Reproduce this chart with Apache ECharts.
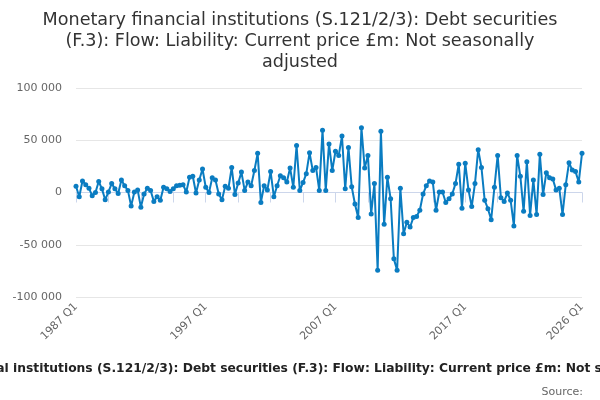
<!DOCTYPE html>
<html>
<head>
<meta charset="utf-8">
<script src="https://cdn.jsdelivr.net/npm/echarts@6/dist/echarts.min.js"></script>
<style>html,body{margin:0;padding:0;background:#fff;}#c{width:600px;height:400px;}</style>
</head>
<body>
<div id="c"></div>
<script>
var titleText = 'Monetary financial institutions (S.121/2/3): Debt securities (F.3): Flow: Liability: Current price £m: Not seasonally adjusted';
var startYear = 1987, endYear = 2026;
var categories = [];
for (var y = startYear; y <= endYear; y++) {
  for (var q = 1; q <= 4; q++) {
    if (y === endYear && q > 1) break;
    categories.push(y + ' Q' + q);
  }
}
var values = [
  6000, -4000, 11000, 7500, 4000, -3000, 0, 10500, 3500, -7000,
  500, 8500, 3500, -1000, 12000, 6500, 2000, -13000, 500, 2500,
  -14000, -1500, 4000, 2000, -8500, -4000, -7500, 5000, 3500, 1000,
  3500, 6500, 7000, 7500, 500, 14500, 15500, -500, 12000, 22500,
  5000, 0, 14000, 12000, -1500, -7000, 6000, 4000, 24000, -2000,
  9000, 19500, 2000, 10000, 6500, 21000, 37500, -9500, 6500, 2500,
  20000, -4000, 6500, 16000, 14000, 10000, 23500, 5000, 45000, 2000,
  9500, 18000, 38000, 21000, 24000, 2000, 59500, 2000, 46500, 21000,
  39500, 35500, 54000, 3500, 43000, 5500, -11000, -24000, 62000, 23500,
  35500, -20500, 8500, -74500, 58500, -30500, 14500, -6000, -63500, -74500,
  4000, -39500, -28500, -33000, -24000, -23000, -17000, -1500, 6500, 11000,
  10000, -17000, 500, 500, -9500, -6000, -1500, 8500, 27000, -15000,
  28000, 2500, -13500, 8500, 41000, 24000, -7500, -15500, -26000, 5000,
  35500, -5000, -8500, -500, -7500, -32000, 35500, 15500, -18000, 29500,
  -22000, 12000, -21000, 36500, -2000, 19000, 14000, 13000, 2500, 4000,
  -21000, 7500, 28500, 21500, 20000, 10000, 37500
];
var yTicks = [-100000, -50000, 0, 50000, 100000];

var chart = echarts.init(document.getElementById('c'), null, {renderer: 'canvas'});
chart.setOption({
  animation: false,
  backgroundColor: '#ffffff',
  title: [{
    text: 'Monetary financial institutions (S.121/2/3): Debt securities\n(F.3): Flow: Liability: Current price £m: Not seasonally\nadjusted',
    left: 'center',
    top: 5,
    textStyle: {fontFamily: 'DejaVu Sans', fontSize: 17.6, fontWeight: 'normal', color: '#333333', lineHeight: 21}
  }, {
    text: titleText,
    left: 306,
    top: 363,
    padding: 0,
    textAlign: 'center',
    textStyle: {fontFamily: 'DejaVu Sans', fontSize: 12.3, fontWeight: 'bold', color: '#222222'}
  }, {
    text: 'Source:',
    right: 12,
    top: 382,
    textStyle: {fontFamily: 'DejaVu Sans', fontSize: 11, fontWeight: 'normal', color: '#666666'}
  }],
  grid: {left: 76, right: 18, top: 88, bottom: 103, containLabel: false},
  xAxis: {
    type: 'category',
    data: categories,
    boundaryGap: false,
    axisLine: {lineStyle: {color: '#ccd6eb', width: 1}},
    axisTick: {interval: 9, length: 10, lineStyle: {color: '#ccd6eb'}},
    axisLabel: {
      interval: 39,
      showMaxLabel: true,
      rotate: 45,
      fontFamily: 'DejaVu Sans',
      fontSize: 11,
      color: '#666666',
      margin: 8
    },
    splitLine: {show: false}
  },
  yAxis: {
    type: 'value',
    min: yTicks[0],
    max: yTicks[yTicks.length - 1],
    interval: 50000,
    axisLine: {show: false},
    axisTick: {show: false},
    splitLine: {lineStyle: {color: '#e6e6e6', width: 1}},
    axisLabel: {
      fontFamily: 'DejaVu Sans',
      fontSize: 11,
      color: '#666666',
      margin: 14,
      formatter: function (v) {
        var s = Math.abs(v).toString().replace(/\B(?=(\d{3})+(?!\d))/g, ' ');
        return (v < 0 ? '-' : '') + s;
      }
    }
  },
  series: [{
    type: 'line',
    data: values,
    symbol: 'circle',
    symbolSize: 5,
    showSymbol: true,
    showAllSymbol: true,
    itemStyle: {color: '#0a7cc1'},
    lineStyle: {color: '#0a7cc1', width: 2},
    z: 3
  }]
});
</script>
</body>
</html>
